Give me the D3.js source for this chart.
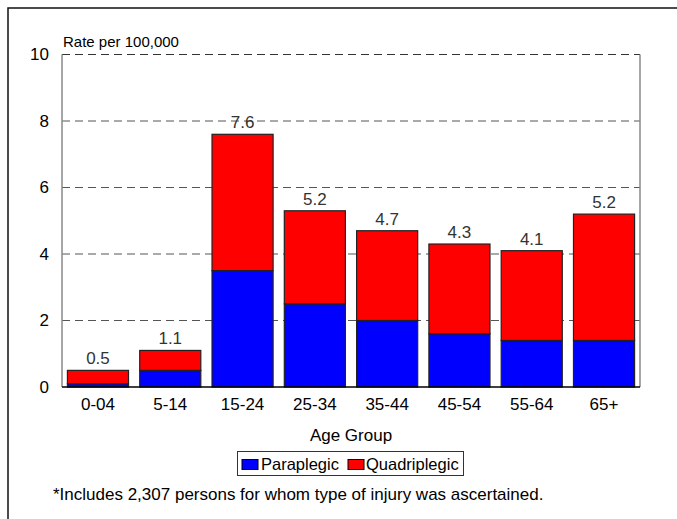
<!DOCTYPE html>
<html><head><meta charset="utf-8">
<script src="https://cdn.jsdelivr.net/npm/d3@7"></script>
<style>body{margin:0;background:#fff}svg{display:block;font-family:"Liberation Sans",Arial,sans-serif}</style>
</head><body>
<svg id="c" width="677" height="519"></svg>
<script>
const categories = ["0-04","5-14","15-24","25-34","35-44","45-54","55-64","65+"];
const paraplegic = [0.1,0.5,3.5,2.5,2.0,1.6,1.4,1.4];
const quadriplegic = [0.4,0.6,4.1,2.8,2.7,2.7,2.7,3.8];
const totalLabels = ["0.5","1.1","7.6","5.2","4.7","4.3","4.1","5.2"];
const yTicks = [0,2,4,6,8,10];
const seriesNames = ["Paraplegic","Quadriplegic"];
const seriesColors = ["#0000ff","#ff0000"];

const svg = d3.select("#c");
const m = {l:62, r:640, t:54.5, b:387};
svg.append("rect").attr("x",8).attr("y",8).attr("width",700).attr("height",560)
  .attr("fill","none").attr("stroke","#111").attr("stroke-width",1.5);

const x = d3.scaleBand().domain(categories).range([m.l,m.r]).paddingInner(0.155).paddingOuter(0.075);
const y = d3.scaleLinear().domain([0,10]).range([m.b,m.t]);

svg.append("g").selectAll("line").data(yTicks.filter(d=>d>0)).join("line")
  .attr("x1",m.l).attr("x2",m.r).attr("y1",d=>y(d)).attr("y2",d=>y(d))
  .attr("stroke",d=>d===10?"#333":"#555").attr("stroke-width",1).attr("stroke-dasharray","8,5");
svg.append("line").attr("x1",m.l).attr("x2",m.l).attr("y1",m.t).attr("y2",m.b).attr("stroke","#888").attr("stroke-width",1.5);
svg.append("line").attr("x1",m.r).attr("x2",m.r).attr("y1",m.t).attr("y2",m.b).attr("stroke","#888").attr("stroke-width",1.5);

const rows = categories.map((c,i)=>({cat:c, Paraplegic:paraplegic[i], Quadriplegic:quadriplegic[i]}));
const stack = d3.stack().keys(seriesNames)(rows);
svg.append("g").selectAll("g").data(stack).join("g")
  .attr("fill",(d,i)=>seriesColors[i])
  .selectAll("rect").data(d=>d).join("rect")
  .attr("x",d=>x(d.data.cat)).attr("width",x.bandwidth())
  .attr("y",d=>y(d[1])).attr("height",d=>y(d[0])-y(d[1]))
  .attr("stroke","#222").attr("stroke-width",1.2);

svg.append("line").attr("x1",m.l).attr("x2",m.r).attr("y1",m.b).attr("y2",m.b).attr("stroke","#000").attr("stroke-width",1.5);

const F = "Liberation Sans, Arial, sans-serif";
const ya = svg.append("g").attr("transform",`translate(${m.l},0)`)
  .call(d3.axisLeft(y).tickValues(yTicks).tickSize(0).tickPadding(13).tickFormat(d3.format("d")));
ya.select(".domain").remove();
ya.selectAll("text").attr("font-size",17).attr("fill","#000").attr("font-family",F);

const xa = svg.append("g").attr("transform",`translate(0,${m.b})`)
  .call(d3.axisBottom(x).tickSize(0).tickPadding(11));
xa.select(".domain").remove();
xa.selectAll("text").attr("font-size",17).attr("fill","#000").attr("font-family",F);

svg.append("g").selectAll("text").data(categories).join("text")
  .attr("x",d=>x(d)+x.bandwidth()/2)
  .attr("y",(d,i)=>y(paraplegic[i]+quadriplegic[i])-6)
  .attr("text-anchor","middle").attr("font-size",17).attr("fill","#333")
  .text((d,i)=>totalLabels[i]);

svg.append("text").attr("x",63).attr("y",47).attr("font-size",15).attr("fill","#000").text("Rate per 100,000");
svg.append("text").attr("x",(m.l+m.r)/2).attr("y",441).attr("text-anchor","middle").attr("font-size",17).attr("fill","#000").text("Age Group");

const lg = svg.append("g");
lg.append("rect").attr("x",237.5).attr("y",451.5).attr("width",226).attr("height",24).attr("fill","#fff").attr("stroke","#333").attr("stroke-width",1);
const litems = [{x:242, tx:261},{x:348, tx:366}];
seriesNames.forEach((s,i)=>{
  lg.append("rect").attr("x",litems[i].x).attr("y",459.5).attr("width",16).attr("height",10).attr("fill",seriesColors[i]).attr("stroke","#000").attr("stroke-width",1);
  lg.append("text").attr("x",litems[i].tx).attr("y",470).attr("font-size",16.5).attr("fill","#000").text(s);
});

svg.append("text").attr("x",53).attr("y",500).attr("font-size",17).attr("fill","#000")
  .text("*Includes 2,307 persons for whom type of injury was ascertained.");
</script>
</body></html>
